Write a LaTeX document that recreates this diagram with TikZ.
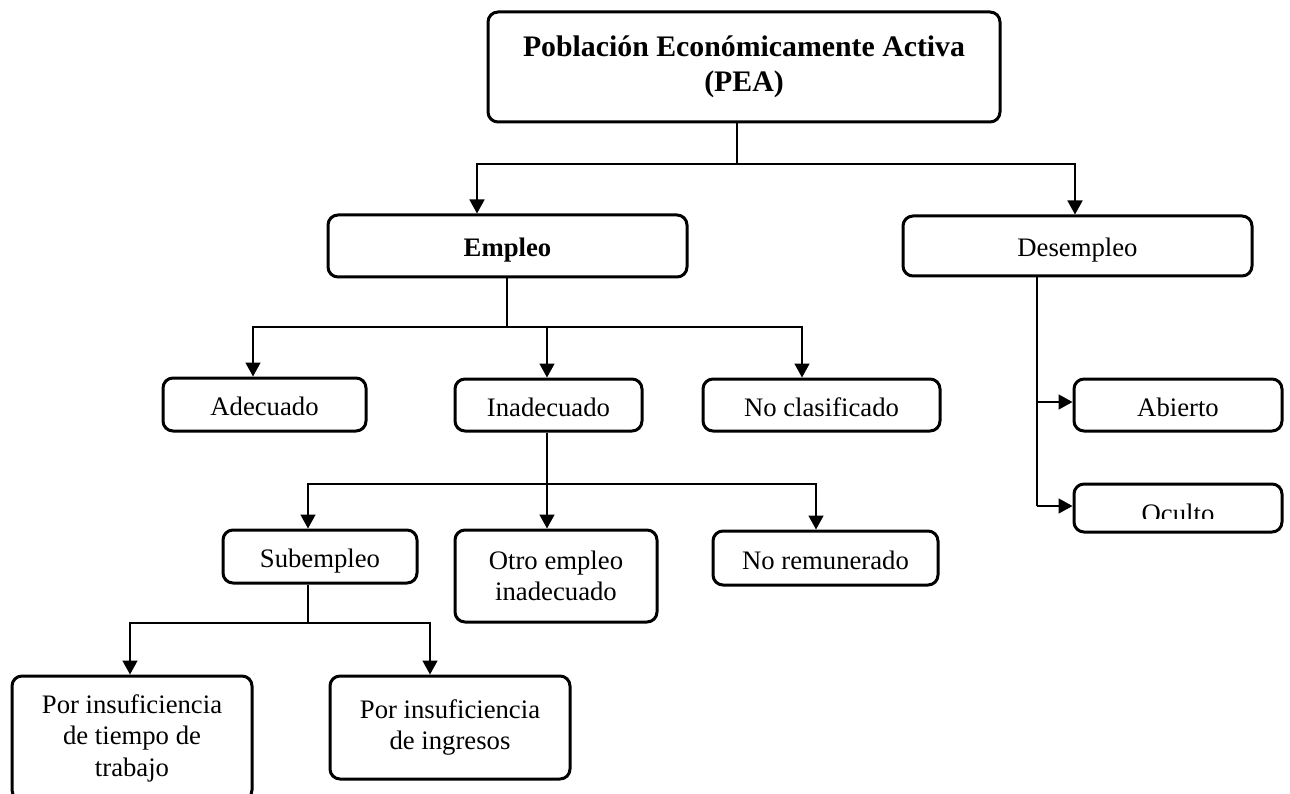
\documentclass[tikz,border=0pt]{standalone}
\usepackage{fontspec}
\setmainfont{Liberation Serif}
\usetikzlibrary{arrows.meta}
\begin{document}
\begin{tikzpicture}[x=1pt,y=-1pt,
  box/.style={draw, line width=3pt, rounded corners=10pt, inner sep=0pt, align=center,
    font=\fontsize{26.7}{31.5}\selectfont},
  one/.style={text height=22pt, text depth=0pt},
  conn/.style={line width=1.6pt},
  arr/.style={conn, -{Triangle[length=14pt,width=15pt]}},
]
\useasboundingbox (0,0) rectangle (1290,794);
\clip (0,0) rectangle (1290,794);

% boxes
\node[box, minimum width=512pt, minimum height=110pt,
  font=\fontsize{29.8}{35}\selectfont\bfseries] (pea) at (744,67)
  {Población Económicamente Activa\\(PEA)};
\node[box, one, minimum width=359pt, minimum height=62pt, font=\fontsize{26.7}{31.5}\selectfont\bfseries]
  (emp) at (507.5,246) {Empleo};
\node[box, one, minimum width=349pt, minimum height=60pt] (des) at (1077.5,246) {Desempleo};
\node[box, one, minimum width=203pt, minimum height=53pt] (ade) at (264.5,404.5) {Adecuado};
\node[box, one, minimum width=187pt, minimum height=52pt] (inad) at (548.5,405) {Inadecuado};
\node[box, one, minimum width=237pt, minimum height=52pt] (nocl) at (821.5,405) {No clasificado};
\node[box, one, minimum width=208pt, minimum height=52pt] (abi) at (1178,405) {Abierto};
\node[box, minimum width=208pt, minimum height=48pt] (ocu) at (1178,508) {};
\begin{scope}
  \clip (1078,488) rectangle (1278,518);
  \node[font=\fontsize{26.7}{31.5}\selectfont, anchor=base, inner sep=0pt] (ocut) at (1178,522) {Oculto};
\end{scope}
\node[box, one, minimum width=194pt, minimum height=53pt] (sub) at (320,556.5) {Subempleo};
\node[box, minimum width=202pt, minimum height=92pt] (otro) at (556,576) {Otro empleo\\inadecuado};
\node[box, one, minimum width=225pt, minimum height=54pt] (norem) at (825.5,558) {No remunerado};
\node[box, minimum width=240pt, minimum height=124pt] (tiem) at (132,738)
  {Por insuficiencia\\de tiempo de\\trabajo};
\node[box, minimum width=240pt, minimum height=103pt] (ingr) at (450,727.5)
  {Por insuficiencia\\de ingresos};

% PEA branch
\coordinate (j1) at (737,164);
\coordinate (e1) at (477,164);
\coordinate (d1) at (1075,164);
\draw[conn] (pea.south -| j1) -- (j1);
\draw[arr] (j1) -- (e1) -- (e1 |- emp.north);
\draw[arr] (j1) -- (d1) -- (d1 |- des.north);

% Empleo branch
\coordinate (j2) at (507,327);
\coordinate (a2) at (253,327);
\coordinate (i2) at (547,327);
\coordinate (n2) at (802,327);
\draw[conn] (emp.south -| j2) -- (j2);
\draw[arr] (j2) -- (a2) -- (a2 |- ade.north);
\draw[arr] (i2) -- (i2 |- inad.north);
\draw[arr] (j2) -- (n2) -- (n2 |- nocl.north);

% Desempleo branch
\coordinate (j3) at (1037,402);
\coordinate (j4) at (1037,506);
\draw[conn] (des.south -| j3) -- (j4);
\draw[arr] (j3) -- (j3 -| abi.west);
\draw[arr] (j4) -- (j4 -| ocu.west);

% Inadecuado branch
\coordinate (j5) at (547,484);
\coordinate (s5) at (308,484);
\coordinate (r5) at (816,484);
\draw[conn] (inad.south -| j5) -- (j5);
\draw[arr] (j5) -- (s5) -- (s5 |- sub.north);
\draw[arr] (j5) -- (j5 |- otro.north);
\draw[arr] (j5) -- (r5) -- (r5 |- norem.north);

% Subempleo branch
\coordinate (j6) at (308,623);
\coordinate (t6) at (130,623);
\coordinate (g6) at (430,623);
\draw[conn] (sub.south -| j6) -- (j6);
\draw[arr] (j6) -- (t6) -- (t6 |- tiem.north);
\draw[arr] (j6) -- (g6) -- (g6 |- ingr.north);
\end{tikzpicture}
\end{document}
